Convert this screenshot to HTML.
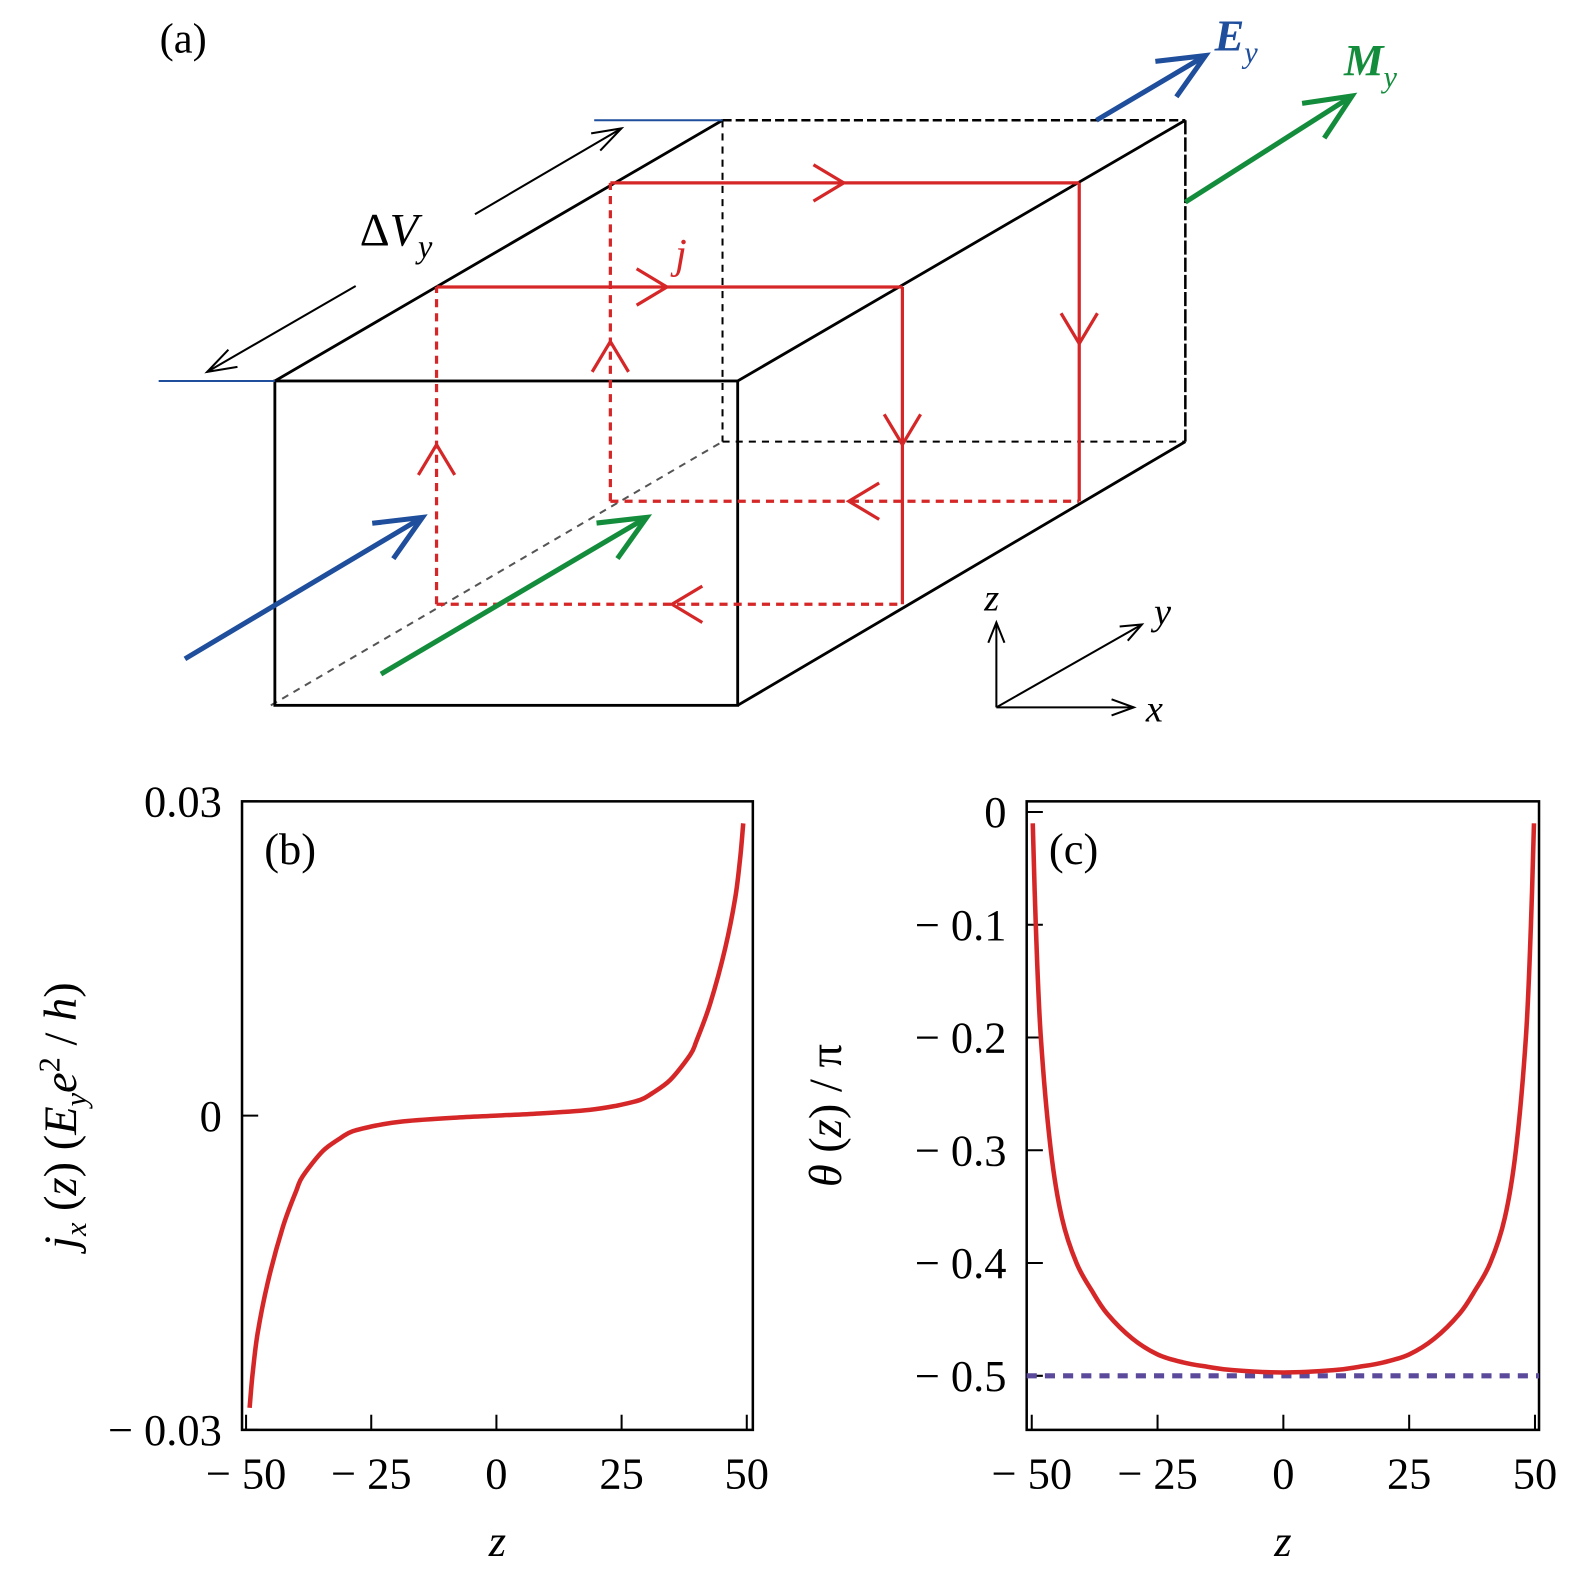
<!DOCTYPE html>
<html><head><meta charset="utf-8"><style>
html,body{margin:0;padding:0;background:#fff;}
svg{display:block;font-family:"Liberation Serif","DejaVu Serif",serif;}
</style></head><body>
<svg id="fig" width="1575" height="1585" viewBox="0 0 1558.6 1568.5" xmlns="http://www.w3.org/2000/svg">
<g id="panelA" fill="none" stroke-linecap="butt">
  <text x="158" y="52" font-size="42" fill="#000" stroke="none">(a)</text>
  <line x1="268" y1="698" x2="715" y2="437" stroke="#555" stroke-width="2" stroke-dasharray="7,6"/>
  <line x1="715" y1="119" x2="715" y2="437" stroke="#000" stroke-width="2" stroke-dasharray="7,6"/>
  <line x1="715" y1="437" x2="1173" y2="437" stroke="#000" stroke-width="2" stroke-dasharray="7,6"/>
  <line x1="715" y1="119" x2="1173" y2="119" stroke="#000" stroke-width="2.5" stroke-dasharray="9,4"/>
  <line x1="1173" y1="119" x2="1173" y2="437" stroke="#000" stroke-width="2.5" stroke-dasharray="14,3"/>
  <rect x="272" y="377" width="458" height="321" stroke="#000" stroke-width="2.8"/>
  <line x1="272" y1="377" x2="715" y2="119" stroke="#000" stroke-width="2.8"/>
  <line x1="730" y1="377" x2="1173" y2="119" stroke="#000" stroke-width="2.8"/>
  <line x1="730" y1="698" x2="1173" y2="437" stroke="#000" stroke-width="2.8"/>
  <line x1="157" y1="377" x2="272" y2="377" stroke="#1f4e9c" stroke-width="2"/>
  <line x1="588" y1="119" x2="715" y2="119" stroke="#1f4e9c" stroke-width="2"/>
  <g stroke="#d62728" stroke-width="3.2">
    <line x1="432" y1="284" x2="893" y2="284"/>
    <line x1="893" y1="284" x2="893" y2="598"/>
    <line x1="432" y1="598" x2="893" y2="598" stroke-dasharray="8,6"/>
    <line x1="432" y1="598" x2="432" y2="284" stroke-dasharray="8,6"/>
    <polyline points="630,266 660,284 630,302"/>
    <polyline points="875,410 893,440 911,410"/>
    <polyline points="695,580 665,598 695,616"/>
    <polyline points="414,470 432,440 450,470"/>
  </g>
  <g stroke="#d62728" stroke-width="3.2">
    <line x1="604" y1="181" x2="1068" y2="181"/>
    <line x1="1068" y1="181" x2="1068" y2="496"/>
    <line x1="604" y1="496" x2="1068" y2="496" stroke-dasharray="8,6"/>
    <line x1="604" y1="496" x2="604" y2="181" stroke-dasharray="8,6"/>
    <polyline points="805,163 835,181 805,199"/>
    <polyline points="1050,310 1068,340 1086,310"/>
    <polyline points="870,478 840,496 870,514"/>
    <polyline points="586,368 604,338 622,368"/>
  </g>
  <text x="668" y="265" font-size="42" font-style="italic" fill="#d62728" stroke="none">j</text>
  <line x1="352" y1="283" x2="205" y2="368" stroke="#000" stroke-width="2"/>
  <polyline points="226,346 205,368 235,363" stroke="#000" stroke-width="2"/>
  <line x1="470" y1="212" x2="615" y2="127" stroke="#000" stroke-width="2"/>
  <polyline points="585,132 615,127 594,149" stroke="#000" stroke-width="2"/>
  <text x="356" y="243" font-size="46" fill="#000" stroke="none">Δ<tspan font-style="italic">V</tspan><tspan font-style="italic" font-size="32" dy="12">y</tspan></text>
  <g id="fieldArrows"></g>
  <text x="1202" y="50" font-size="44" font-weight="bold" font-style="italic" fill="#1f4e9c" stroke="none">E<tspan font-size="30" font-weight="normal" dy="12">y</tspan></text>
  <text x="1330" y="74" font-size="44" font-weight="bold" font-style="italic" fill="#138d3c" stroke="none">M<tspan font-size="30" font-weight="normal" dy="12">y</tspan></text>
  <g stroke="#000" stroke-width="2">
    <line x1="986" y1="700" x2="986" y2="616"/>
    <polyline points="978,636 986,616 994,636"/>
    <line x1="986" y1="700" x2="1122" y2="700"/>
    <polyline points="1100,692 1122,700 1100,708"/>
    <line x1="986" y1="700" x2="1130" y2="618"/>
    <polyline points="1108,620 1130,618 1116,634"/>
  </g>
  <text x="974" y="604" font-size="38" font-style="italic" fill="#000">z</text>
  <text x="1134" y="714" font-size="38" font-style="italic" fill="#000">x</text>
  <text x="1142" y="618" font-size="38" font-style="italic" fill="#000">y</text>
</g>
<g id="panelB"></g>
<g id="panelC"></g>
</svg>
<script>
// Panel b data: current density j_x(z), units of 1e-3
const bZ = [-49.3,-48.7,-47.7,-45.7,-42.7,-40,-38.7,-34.7,-31,-28.7,-24,-18.6,-8.5,0,8.5,18.6,24,28.7,31,34.7,38.7,40,42.7,45.7,47.7,48.7,49.3];
const bJ = [-27.9,-24.7,-20.8,-16,-10.7,-7.2,-5.8,-3.4,-2.1,-1.5,-0.95,-0.55,-0.2,0,0.2,0.55,0.95,1.5,2.1,3.4,5.8,7.2,10.7,16,20.8,24.7,27.9];
const bXTicks = [-50,-25,0,25,50];
const bXTickLabels = ["− 50","− 25","0","25","50"];
const bYTicks = [0.03,0,-0.03];
const bYTickLabels = ["0.03","0","− 0.03"];
// Panel c data: theta(z)/pi
const cZ = [-49.8,-49.2,-48.2,-46.2,-44,-41.1,-38,-35,-30,-25,-20,-15,-10,0,10,15,20,25,30,35,38,41.1,44,46.2,48.2,49.2,49.8];
const cT = [-0.01,-0.1,-0.2,-0.3,-0.36,-0.4,-0.425,-0.445,-0.467,-0.481,-0.488,-0.492,-0.495,-0.497,-0.495,-0.492,-0.488,-0.481,-0.467,-0.445,-0.425,-0.4,-0.36,-0.3,-0.2,-0.1,-0.01];
const cRef = -0.5;
const cXTicks = [-50,-25,0,25,50];
const cXTickLabels = ["− 50","− 25","0","25","50"];
const cYTicks = [0,-0.1,-0.2,-0.3,-0.4,-0.5];
const cYTickLabels = ["0","− 0.1","− 0.2","− 0.3","− 0.4","− 0.5"];

const NS="http://www.w3.org/2000/svg";
function mk(tag,attrs,parent){const e=document.createElementNS(NS,tag);for(const k in attrs)e.setAttribute(k,attrs[k]);parent.appendChild(e);return e;}

const fa=document.getElementById('fieldArrows');
function fieldArrow(x1,y1,x2,y2,col,name){
  const l=mk('line',{x1:x1,y1:y1,x2:x2,y2:y2,stroke:col,'stroke-width':5},fa);
  
  
  const dx=x2-x1,dy=y2-y1,L=Math.hypot(dx,dy),ux=dx/L,uy=dy/L,h=50,a=0.42;
  const c=Math.cos(a),s=Math.sin(a);
  const p1=[x2-h*(ux*c-uy*s),y2-h*(uy*c+ux*s)],p2=[x2-h*(ux*c+uy*s),y2-h*(uy*c-ux*s)];
  const p=mk('polyline',{points:p1.join(',')+' '+x2+','+y2+' '+p2.join(','),stroke:col,'stroke-width':5,fill:'none'},fa);
  
  
}
fieldArrow(183,652,418,512,'#1f4e9c','e-field-arrow-front');
fieldArrow(377,667,640,512,'#138d3c','m-field-arrow-front');
fieldArrow(1085,119,1193,55,'#1f4e9c','e-field-arrow-back');
fieldArrow(1173,200,1338,95,'#138d3c','m-field-arrow-back');

function smoothPath(P){
  let d='M'+P[0][0].toFixed(1)+','+P[0][1].toFixed(1);
  for(let i=0;i<P.length-1;i++){
    const p0=P[Math.max(i-1,0)],p1=P[i],p2=P[i+1],p3=P[Math.min(i+2,P.length-1)];
    const c1=[p1[0]+(p2[0]-p0[0])/6,p1[1]+(p2[1]-p0[1])/6];
    const c2=[p2[0]-(p3[0]-p1[0])/6,p2[1]-(p3[1]-p1[1])/6];
    d+=' C'+c1[0].toFixed(1)+','+c1[1].toFixed(1)+' '+c2[0].toFixed(1)+','+c2[1].toFixed(1)+' '+p2[0].toFixed(1)+','+p2[1].toFixed(1);
  }
  return d;
}

function panel(g,o){
  const X=v=>o.x0+(v-o.zmin)*(o.x1-o.x0)/(o.zmax-o.zmin);
  const Y=v=>o.y0+(v-o.vtop)*(o.y1-o.y0)/(o.vbot-o.vtop);
  const frame=mk('rect',{x:o.L,y:o.T,width:o.R-o.L,height:o.B-o.T,fill:'none',stroke:'#000','stroke-width':2.5},g);
  
  
  o.xt.forEach((t,i)=>{
    const tk=mk('line',{x1:X(t),y1:o.B,x2:X(t),y2:o.B-15,stroke:'#000','stroke-width':2},g);
    
    
    const tl=mk('text',{x:X(t),y:o.B+58,'font-size':44,'text-anchor':'middle',fill:'#000','xml:space':'preserve'},g);
    tl.textContent=o.xl[i];
    
    
  });
  o.yt.forEach((t,i)=>{
    const tk=mk('line',{x1:o.L,y1:Y(t),x2:o.L+16,y2:Y(t),stroke:'#000','stroke-width':2},g);
    
    
    const tl=mk('text',{x:o.L-20,y:Y(t)+15,'font-size':44,'text-anchor':'end',fill:'#000'},g);
    tl.textContent=o.yl[i];
    
    
  });
  if(o.ref!==undefined){
    const r=mk('line',{x1:o.L,y1:Y(o.ref),x2:o.R,y2:Y(o.ref),stroke:'#5b4a9b','stroke-width':5,'stroke-dasharray':'10,8'},g);
    
    
  }
  const P=o.zs.map((z,i)=>[X(z),Y(o.vs[i])]);
  const c=mk('path',{d:smoothPath(P),fill:'none',stroke:'#d62728','stroke-width':4.5,'stroke-linejoin':'round'},g);
  
  
  const lab=mk('text',{x:o.L+22,y:o.T+62,'font-size':44,fill:'#000'},g);
  lab.textContent=o.label;
  
  
  const xt=mk('text',{x:(o.L+o.R)/2,y:1540,'font-size':44,'font-style':'italic','text-anchor':'middle',fill:'#000'},g);
  xt.textContent='z';
  
  
  const yt=mk('text',{x:0,y:0,'font-size':46,'text-anchor':'middle',fill:'#000',transform:'translate('+o.ytx+','+((o.T+o.B)/2)+') rotate(-90)'},g);
  yt.innerHTML=o.ytitle;
  
  
}
panel(document.getElementById('panelB'),{p:'b',L:239.5,R:745,T:793,B:1415,x0:243.5,x1:739,zmin:-50,zmax:50,y0:793,y1:1415,vtop:30,vbot:-30,
  xt:bXTicks,xl:bXTickLabels,yt:bYTicks.map(v=>v*1000),yl:bYTickLabels,zs:bZ,vs:bJ,label:'(b)',ytx:75,
  ytitle:'<tspan font-style="italic">j</tspan><tspan font-style="italic" font-size="30" dy="10">x</tspan><tspan dy="-10"> (</tspan><tspan font-style="italic">z</tspan>) (<tspan font-style="italic">E</tspan><tspan font-style="italic" font-size="30" dy="10">y</tspan><tspan font-style="italic" dy="-10">e</tspan><tspan font-size="30" dy="-16">2</tspan><tspan dy="16"> / </tspan><tspan font-style="italic">h</tspan>)'});
panel(document.getElementById('panelC'),{p:'c',L:1016,R:1523,T:793,B:1415,x0:1021,x1:1519,zmin:-50,zmax:50,y0:803.5,y1:1361.5,vtop:0,vbot:-0.5,
  xt:cXTicks,xl:cXTickLabels,yt:cYTicks,yl:cYTickLabels,zs:cZ,vs:cT,ref:cRef,label:'(c)',ytx:832,
  ytitle:'<tspan font-style="italic">θ</tspan> (<tspan font-style="italic">z</tspan>) / π'});
</script>
</body></html>
